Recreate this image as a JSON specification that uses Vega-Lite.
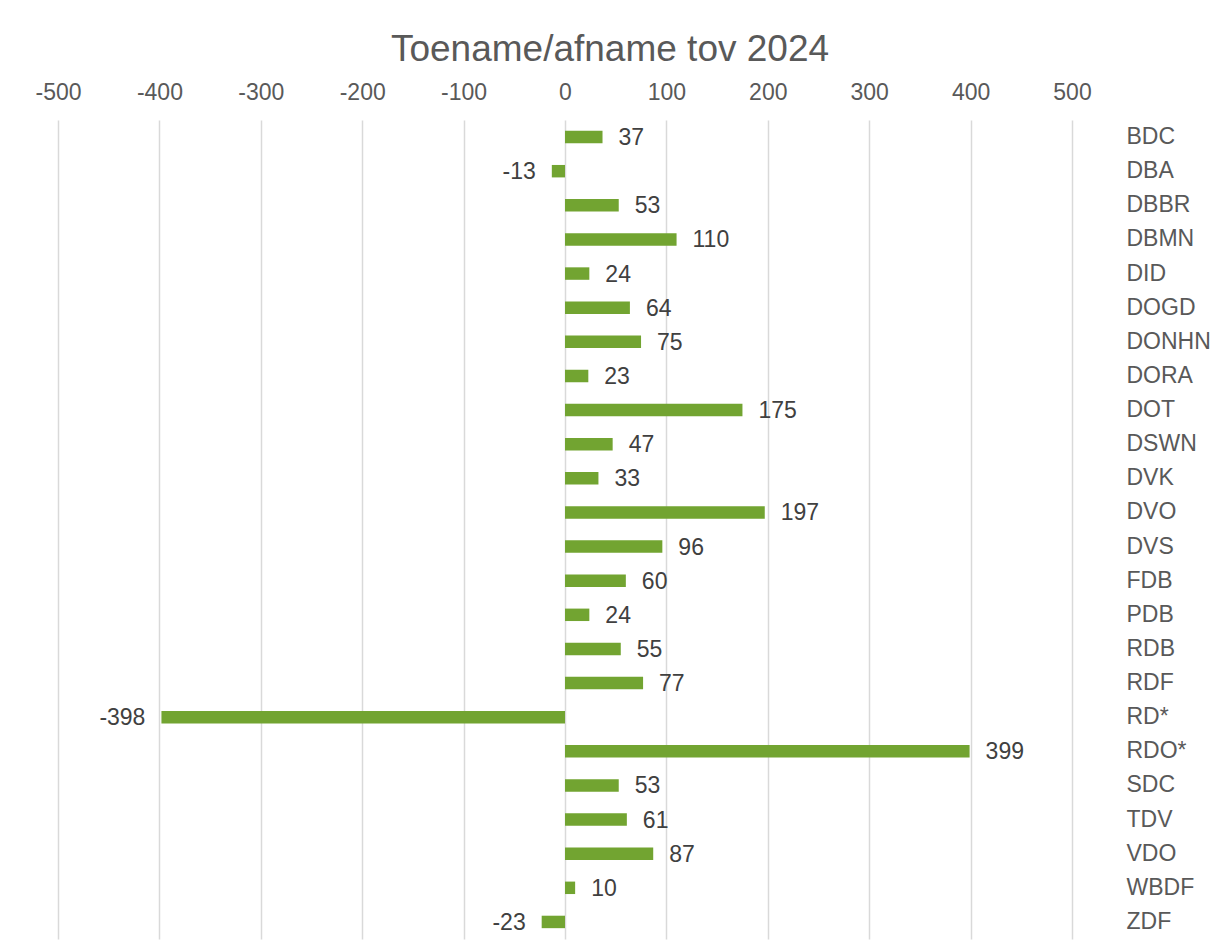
{
  "$schema": "https://vega.github.io/schema/vega-lite/v6.json",
  "autosize": {"type": "none"},
  "padding": {"left": 58, "top": 120, "right": 141, "bottom": 7},
  "width": 1014,
  "height": 819,
  "background": "white",
  "title": {
    "text": "Toename/afname tov 2024",
    "fontSize": 37,
    "font": "Liberation Sans",
    "fontWeight": "normal",
    "color": "#595959",
    "anchor": "middle",
    "frame": "group",
    "dx": 45,
    "offset": 12
  },
  "data": {
    "values": [
      {"cat": "BDC", "val": 37},
      {"cat": "DBA", "val": -13},
      {"cat": "DBBR", "val": 53},
      {"cat": "DBMN", "val": 110},
      {"cat": "DID", "val": 24},
      {"cat": "DOGD", "val": 64},
      {"cat": "DONHN", "val": 75},
      {"cat": "DORA", "val": 23},
      {"cat": "DOT", "val": 175},
      {"cat": "DSWN", "val": 47},
      {"cat": "DVK", "val": 33},
      {"cat": "DVO", "val": 197},
      {"cat": "DVS", "val": 96},
      {"cat": "FDB", "val": 60},
      {"cat": "PDB", "val": 24},
      {"cat": "RDB", "val": 55},
      {"cat": "RDF", "val": 77},
      {"cat": "RD*", "val": -398},
      {"cat": "RDO*", "val": 399},
      {"cat": "SDC", "val": 53},
      {"cat": "TDV", "val": 61},
      {"cat": "VDO", "val": 87},
      {"cat": "WBDF", "val": 10},
      {"cat": "ZDF", "val": -23}
    ]
  },
  "encoding": {
    "y": {
      "field": "cat",
      "type": "nominal",
      "sort": null,
      "scale": {"paddingInner": 0.635, "paddingOuter": 0.3175},
      "axis": {
        "orient": "right",
        "title": null,
        "domain": false,
        "ticks": false,
        "labelAlign": "left",
        "labelPadding": 54,
        "labelFontSize": 23,
        "labelFont": "Liberation Sans",
        "labelColor": "#595959"
      }
    },
    "x": {
      "field": "val",
      "type": "quantitative",
      "scale": {"domain": [-500, 500], "nice": false, "zero": false},
      "axis": {
        "orient": "top",
        "title": null,
        "values": [-500, -400, -300, -200, -100, 0, 100, 200, 300, 400, 500],
        "labelExpr": "toString(datum.value)",
        "labelFlush": false,
        "labelOverlap": false,
        "domain": false,
        "ticks": false,
        "grid": true,
        "gridColor": "#d9d9d9",
        "gridWidth": 1.5,
        "labelFontSize": 23,
        "labelFont": "Liberation Sans",
        "labelColor": "#595959",
        "labelPadding": 16
      }
    }
  },
  "layer": [
    {"mark": {"type": "bar", "color": "#72A431"}},
    {
      "transform": [{"filter": "datum.val >= 0"}],
      "mark": {"type": "text", "align": "left", "baseline": "middle", "dx": 16, "dy": 1, "fontSize": 23, "font": "Liberation Sans", "color": "#404040"},
      "encoding": {"text": {"field": "val", "type": "nominal"}}
    },
    {
      "transform": [{"filter": "datum.val < 0"}],
      "mark": {"type": "text", "align": "right", "baseline": "middle", "dx": -16, "dy": 1, "fontSize": 23, "font": "Liberation Sans", "color": "#404040"},
      "encoding": {"text": {"field": "val", "type": "nominal"}}
    }
  ],
  "config": {"view": {"stroke": null}}
}
